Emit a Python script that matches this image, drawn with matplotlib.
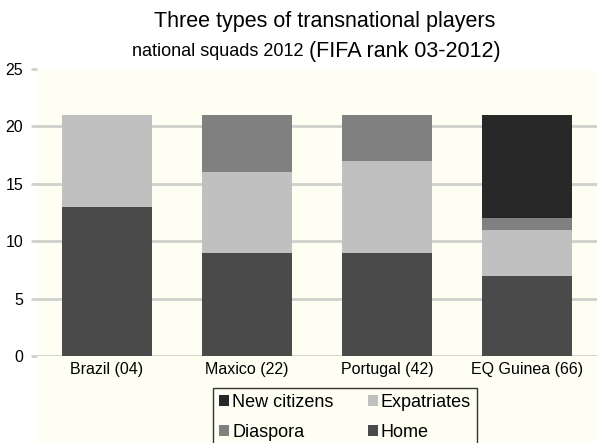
import matplotlib.pyplot as plt
import numpy as np

plt.rcParams['font.family'] = ['Liberation Sans', 'DejaVu Sans']

countries = ["Brazil (04)", "Maxico (22)", "Portugal (42)", "EQ Guinea (66)"]
home = [13, 9, 9, 7]
expatriates = [8, 7, 8, 4]
diaspora = [0, 5, 4, 1]
new_citizens = [0, 0, 0, 9]
yticks = [0, 5, 10, 15, 20, 25]

bg = "#fffef3"
col_home = "#4a4a4a"
col_exp = "#c0c0c0"
col_dia = "#808080"
col_new = "#282828"

fig = plt.figure(figsize=(5.97, 4.43), dpi=100)
fig.patch.set_facecolor("white")

# cream area behind plot, labels and legend
bgax = fig.add_axes([37 / 597, 0, 1 - 37 / 597, 374 / 443], zorder=-1)
bgax.set_facecolor(bg)
bgax.set_axis_off()
bgax.add_patch(plt.Rectangle((0, 0), 1, 1, transform=bgax.transAxes,
                             facecolor=bg, edgecolor="none"))

ax = fig.add_axes([37 / 597, 87 / 443, 1 - 37 / 597, 287 / 443])
ax.set_facecolor("none")

x = np.arange(len(countries))
w = 0.64
b1 = np.array(home)
b2 = b1 + np.array(expatriates)
b3 = b2 + np.array(diaspora)

ax.bar(x, home, w, color=col_home, label="Home", zorder=3)
ax.bar(x, expatriates, w, bottom=b1, color=col_exp, label="Expatriates", zorder=3)
ax.bar(x, diaspora, w, bottom=b2, color=col_dia, label="Diaspora", zorder=3)
ax.bar(x, new_citizens, w, bottom=b3, color=col_new, label="New citizens", zorder=3)

ax.set_xlim(-0.5, 3.5)
ax.set_ylim(0, 25)
ax.set_yticks(yticks)
ax.set_yticklabels([str(v) for v in yticks], fontsize=11.5)
ax.set_xticks(x)
ax.set_xticklabels(countries, fontsize=11.5)
ax.tick_params(axis="x", length=0, pad=4)
ax.tick_params(axis="y", length=4, width=2, color="#d0d0cc", pad=6)
for s in ax.spines.values():
    s.set_visible(False)
for v in yticks[:-1]:
    ax.axhline(v, color="#d0d0cc", lw=2, zorder=1)

fig.text(325 / 597, 1 - 22 / 443, "Three types of transnational players",
         ha="center", va="center", fontsize=15.5)
fig.text(309 / 597, 1 - 51 / 443, "national squads 2012 ", ha="right",
         va="center", fontsize=13)
fig.text(309 / 597, 1 - 51 / 443, "(FIFA rank 03-2012)", ha="left",
         va="center", fontsize=15.5)

hd, ld = ax.get_legend_handles_labels()
order = [3, 2, 1, 0]
leg = fig.legend([hd[i] for i in order], [ld[i] for i in order],
                 loc="upper center", bbox_to_anchor=(345 / 597, 55 / 443),
                 ncol=2, fontsize=13, frameon=True, fancybox=False,
                 handlelength=0.55, handleheight=0.55, handletextpad=0.15,
                 columnspacing=1.9, labelspacing=0.7, borderpad=0.35,
                 borderaxespad=0)
leg.get_frame().set_edgecolor("black")
leg.get_frame().set_linewidth(1.0)
leg.get_frame().set_facecolor(bg)

fig.savefig("out.png", dpi=100, facecolor="white")
